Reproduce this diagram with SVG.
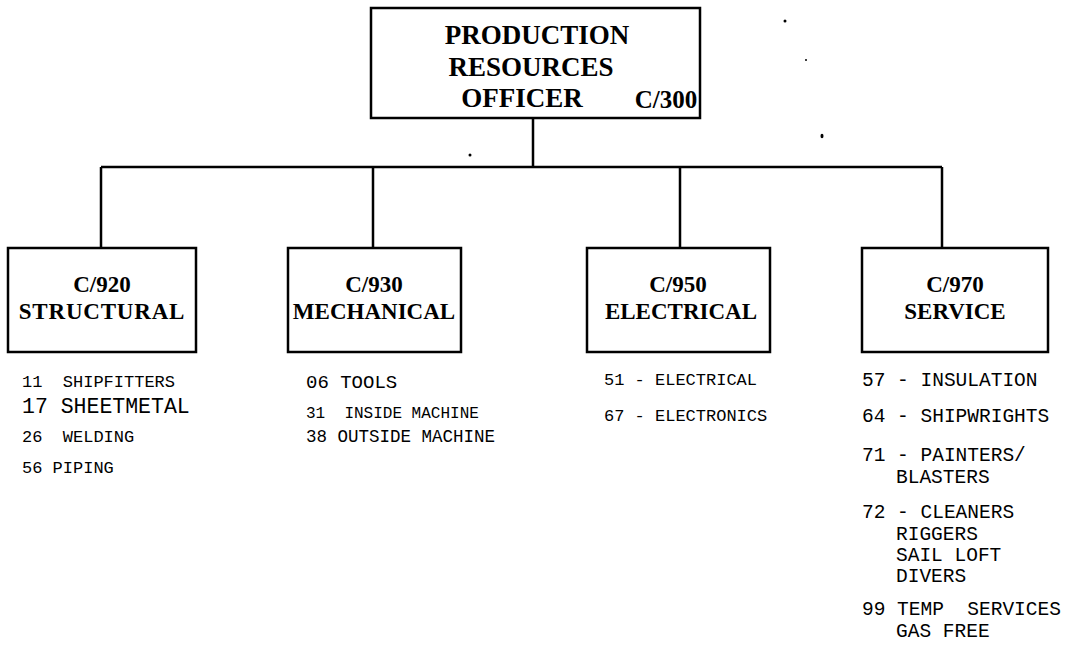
<svg xmlns="http://www.w3.org/2000/svg" width="1082" height="647" viewBox="0 0 1082 647">
<style>
.box{fill:#fff;stroke:#000;stroke-width:2.5}
.lbl{font-family:"Liberation Serif","Times New Roman",serif;font-weight:bold;font-size:23px;fill:#000;text-anchor:middle}
.top{font-size:27px}
.m{font-family:"Liberation Mono","Courier New",monospace;font-size:17px;fill:#000;white-space:pre}
.s{font-size:19.5px}
.conn{fill:none;stroke:#000;stroke-width:2.5}
</style>
<rect width="1082" height="647" fill="#fff"/>
<g id="connectors">
<path class="conn" d="M533 118V167M101 167H942M101 167V248M373 167V248M680 167V248M942 167V248"/>
</g>
<g id="specks" fill="#000">
<circle cx="470" cy="155" r="1.5"/>
<circle cx="785" cy="21" r="1.5"/>
<circle cx="806" cy="60" r="1"/>
<ellipse cx="822" cy="136" rx="1.5" ry="2.2"/>
</g>
<g id="n300">
<rect class="box" x="371" y="8" width="329" height="110"/>
<text class="lbl top" x="537" y="44">PRODUCTION</text>
<text class="lbl top" x="531" y="76">RESOURCES</text>
<text class="lbl top" x="522" y="107">OFFICER</text>
<text class="lbl top" x="666" y="108" style="font-size:25px">C/300</text>
</g>
<g id="n920">
<rect class="box" x="8" y="248" width="188" height="104"/>
<text class="lbl" x="102" y="292">C/920</text>
<text class="lbl" x="102" y="319" style="letter-spacing:0.8px">STRUCTURAL</text>
<text class="m" x="22" y="387">11  SHIPFITTERS</text>
<text class="m" x="22" y="413" style="font-size:21.5px">17 SHEETMETAL</text>
<text class="m" x="22" y="442">26  WELDING</text>
<text class="m" x="22" y="473">56 PIPING</text>
</g>
<g id="n930">
<rect class="box" x="288" y="248" width="173" height="104"/>
<text class="lbl" x="374" y="292">C/930</text>
<text class="lbl" x="374" y="319">MECHANICAL</text>
<text class="m" x="306" y="388" style="font-size:19px">06 TOOLS</text>
<text class="m" x="306" y="418" style="font-size:16px">31  INSIDE MACHINE</text>
<text class="m" x="306" y="442" style="font-size:17.5px">38 OUTSIDE MACHINE</text>
</g>
<g id="n950">
<rect class="box" x="587" y="248" width="183" height="104"/>
<text class="lbl" x="678" y="292">C/950</text>
<text class="lbl" x="681" y="319">ELECTRICAL</text>
<text class="m" x="604" y="385">51 - ELECTRICAL</text>
<text class="m" x="604" y="421">67 - ELECTRONICS</text>
</g>
<g id="n970">
<rect class="box" x="862" y="248" width="186" height="104"/>
<text class="lbl" x="955" y="292">C/970</text>
<text class="lbl" x="955" y="319">SERVICE</text>
<text class="m s" x="862" y="386">57 - INSULATION</text>
<text class="m s" x="862" y="422">64 - SHIPWRIGHTS</text>
<text class="m s" x="862" y="461">71 - PAINTERS/</text>
<text class="m s" x="896" y="483">BLASTERS</text>
<text class="m s" x="862" y="518">72 - CLEANERS</text>
<text class="m s" x="896" y="540">RIGGERS</text>
<text class="m s" x="896" y="561">SAIL LOFT</text>
<text class="m s" x="896" y="582">DIVERS</text>
<text class="m s" x="862" y="615">99 TEMP  SERVICES</text>
<text class="m s" x="896" y="637">GAS FREE</text>
</g>
</svg>
